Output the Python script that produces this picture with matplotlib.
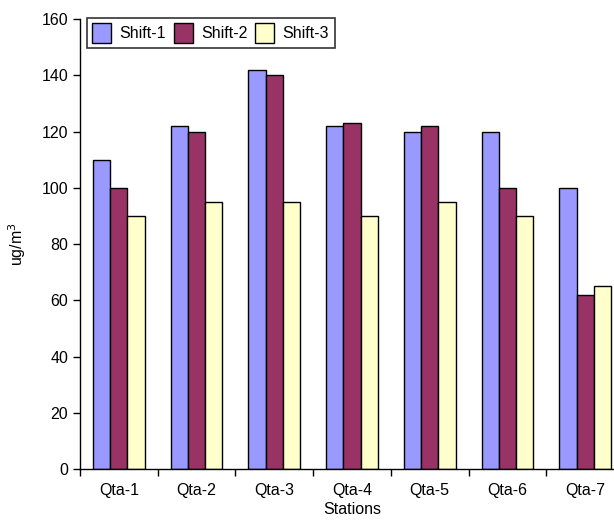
import matplotlib
matplotlib.use('Agg')
import matplotlib.pyplot as plt
import numpy as np

plt.rcParams['font.family'] = ['Liberation Sans', 'DejaVu Sans']

# concentrations per station and shift
stations = ['Qta-1', 'Qta-2', 'Qta-3', 'Qta-4', 'Qta-5', 'Qta-6', 'Qta-7']
shift1 = [110, 122, 142, 122, 120, 120, 100]
shift2 = [100, 120, 140, 123, 122, 100, 62]
shift3 = [90, 95, 95, 90, 95, 90, 65]
series_names = ['Shift-1', 'Shift-2', 'Shift-3']
colors = ['#9999FF', '#993366', '#FFFFCC']

x = np.arange(len(stations))
width = 1 / 4.5
fs = 11.5

fig = plt.figure(figsize=(6.14, 5.21), dpi=100)
ax = fig.add_axes([0.1303, 0.0998, 0.886, 0.8637])

for i, (vals, name, col) in enumerate(zip([shift1, shift2, shift3], series_names, colors)):
    ax.bar(x + (i - 1) * width, vals, width, label=name, color=col,
           edgecolor='black', linewidth=1.0)

ax.set_xlim(-0.5, len(stations) - 0.5)
ax.set_ylim(0, 160)
ax.set_yticks(np.arange(0, 161, 20))
ax.set_xticks(x)
ax.set_xticklabels(stations)
ax.set_xticks(np.arange(-0.5, len(stations)), minor=True)
ax.tick_params(axis='x', which='major', length=0, labelsize=fs, pad=10)
ax.tick_params(axis='x', which='minor', length=5, direction='out', width=1)
ax.tick_params(axis='y', length=5, direction='out', width=1, labelsize=fs)

for s in ['top', 'right']:
    ax.spines[s].set_visible(False)
ax.spines['left'].set_linewidth(1)
ax.spines['bottom'].set_linewidth(1)

ax.set_ylabel('ug/m$^3$', fontsize=fs, labelpad=10)
ax.set_xlabel('Stations', fontsize=fs, labelpad=3)

leg = ax.legend(ncol=3, loc='upper left', bbox_to_anchor=(0.012, 1.003),
                frameon=True, fancybox=False, edgecolor='black', fontsize=fs,
                handlelength=1.2, handleheight=1.5, handletextpad=0.5,
                columnspacing=0.5, borderpad=0.35, borderaxespad=0.0)
leg.get_frame().set_linewidth(1.2)

fig.savefig('out.png', dpi=100)
